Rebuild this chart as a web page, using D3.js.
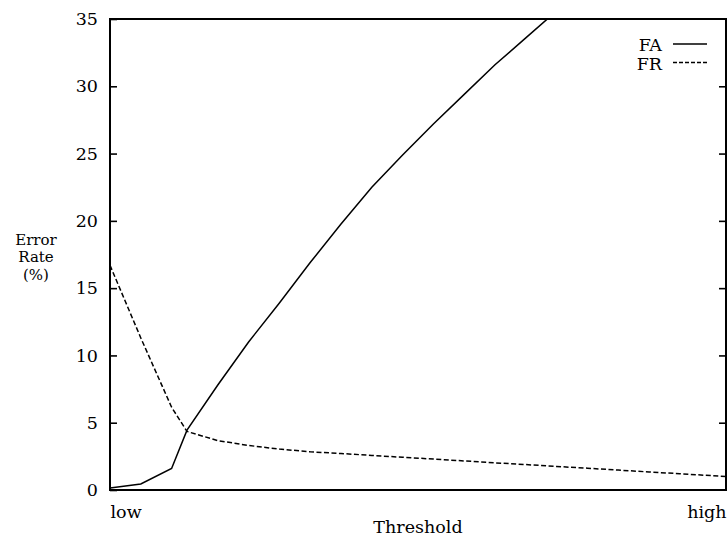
<!DOCTYPE html>
<html>
<head>
<meta charset="utf-8">
<script src="https://cdn.jsdelivr.net/npm/d3@7"></script>
<style>
  html, body { margin: 0; padding: 0; background: #fff; }
  svg { display: block; }
  text { font-family: "DejaVu Serif", "Liberation Serif", serif; fill: #000; }
</style>
</head>
<body>
<svg id="chart" width="728" height="537"></svg>
<script>
// Threshold steps (unitless, from low to high)
const thresholds = [0, 2, 4, 5, 7, 9, 11, 13, 15, 17, 19, 21, 23, 25, 27, 29, 31, 33, 35, 37, 39, 40];
// False acceptance rate (%) at each threshold
const faValues = [0.15, 0.45, 1.6, 4.45, 7.8, 11.0, 13.9, 16.9, 19.76, 22.5, 24.9, 27.2, 29.4, 31.6, 33.6, 35.6,
                  null, null, null, null, null, null];
// False rejection rate (%) at each threshold
const frValues = [16.7, 11.3, 6.15, 4.35, 3.67, 3.31, 3.04, 2.84, 2.71, 2.57, 2.43, 2.30, 2.16, 2.02, 1.89, 1.75,
                  1.62, 1.48, 1.34, 1.21, 1.07, 1.0];
const yTicks = [0, 5, 10, 15, 20, 25, 30, 35];
const xTickLabels = ["low", "high"];
const seriesNames = ["FA", "FR"];
const yTitleLines = ["Error", "Rate", "(%)"];

const svg = d3.select("#chart");
const plotLeft = 110, plotRight = 726, plotTop = 19, plotBottom = 490;

const x = d3.scaleLinear().domain([d3.min(thresholds), d3.max(thresholds)]).range([plotLeft, plotRight]);
const y = d3.scaleLinear().domain([0, 35]).range([plotBottom, plotTop]);

svg.append("clipPath").attr("id", "plot-clip")
  .append("rect").attr("x", plotLeft).attr("y", plotTop)
  .attr("width", plotRight - plotLeft).attr("height", plotBottom - plotTop);

const fontSize = 17.5;

// Left axis with inward ticks
const yAxis = svg.append("g").attr("transform", `translate(${plotLeft},0)`)
  .call(d3.axisLeft(y).tickValues(yTicks).tickSize(-7).tickPadding(12));
yAxis.select(".domain").remove();
yAxis.selectAll("line").attr("stroke", "#000").attr("stroke-width", 1.6);
yAxis.selectAll("text").style("font-size", fontSize + "px").attr("font-family", null);

// Right axis, ticks only
const yAxisR = svg.append("g").attr("transform", `translate(${plotRight},0)`)
  .call(d3.axisRight(y).tickValues(yTicks.slice(1, -1)).tickSize(-7).tickFormat(""));
yAxisR.select(".domain").remove();
yAxisR.selectAll("line").attr("stroke", "#000").attr("stroke-width", 1.6);

// Bottom axis: only the two end labels
const xAxis = svg.append("g").attr("transform", `translate(0,${plotBottom})`)
  .call(d3.axisBottom(x).tickValues(x.domain()).tickSize(0).tickPadding(16)
    .tickFormat((d, i) => xTickLabels[i]));
xAxis.select(".domain").remove();
xAxis.selectAll("text").style("font-size", fontSize + "px").attr("font-family", null)
  .attr("text-anchor", (d, i) => i === 0 ? "start" : "end");

// Plot frame
svg.append("rect")
  .attr("x", plotLeft).attr("y", plotTop)
  .attr("width", plotRight - plotLeft).attr("height", plotBottom - plotTop)
  .attr("fill", "none").attr("stroke", "#000").attr("stroke-width", 2);

// Curves
const faData = thresholds.map((t, i) => ({ t, v: faValues[i] }));
const frData = thresholds.map((t, i) => ({ t, v: frValues[i] }));
const line = d3.line().defined(d => d.v != null).x(d => x(d.t)).y(d => y(d.v));

const plot = svg.append("g").attr("clip-path", "url(#plot-clip)");
plot.append("path").datum(faData).attr("d", line)
  .attr("fill", "none").attr("stroke", "#000").attr("stroke-width", 1.5);
plot.append("path").datum(frData).attr("d", line)
  .attr("fill", "none").attr("stroke", "#000").attr("stroke-width", 1.5)
  .attr("stroke-dasharray", "5,2.5");

// Legend
const legend = svg.append("g");
seriesNames.forEach((name, i) => {
  const ly = 44 + i * 18.5;
  legend.append("text").attr("x", 662).attr("y", ly + 7).attr("text-anchor", "end")
    .style("font-size", fontSize + "px").text(name);
  legend.append("line").attr("x1", 673).attr("x2", 707).attr("y1", ly).attr("y2", ly)
    .attr("stroke", "#000").attr("stroke-width", 1.5)
    .attr("stroke-dasharray", i === 1 ? "4,2" : null);
});

// Stacked y title, one text per line
yTitleLines.forEach((s, i) => {
  svg.append("text").attr("x", 36).attr("y", 245 + i * 17.4).attr("text-anchor", "middle")
    .style("font-size", "15px").text(s);
});
svg.append("text").attr("x", (plotLeft + plotRight) / 2).attr("y", 533).attr("text-anchor", "middle")
  .style("font-size", fontSize + "px").text("Threshold");
</script>
</body>
</html>
